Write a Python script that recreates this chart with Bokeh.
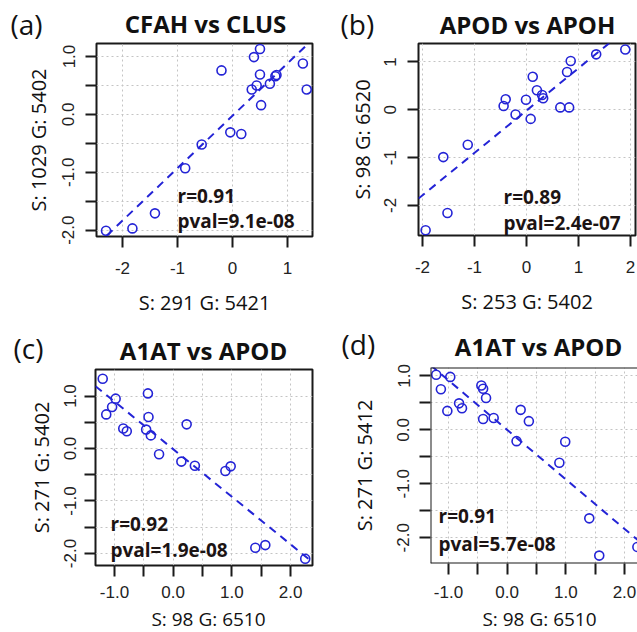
import numpy as np
from bokeh.plotting import figure
from bokeh.models import Range1d, FixedTicker, Label, Span, PrintfTickFormatter
from bokeh.core.properties import value
from bokeh.layouts import row, column
from bokeh.embed import file_html
from bokeh.resources import INLINE

# ---------------- data ----------------
# (a) CFAH vs CLUS
A_X = [-2.30, -1.82, -1.41, -0.86, -0.56, -0.04, 0.16, -0.20, 0.39, 0.50,
       0.50, 0.35, 0.44, 0.52, 0.68, 0.78, 0.80, 1.28, 1.35]
A_Y = [-2.01, -1.97, -1.71, -0.93, -0.52, -0.31, -0.34, 0.76, 0.99, 1.13,
       0.69, 0.43, 0.50, 0.16, 0.53, 0.66, 0.68, 0.88, 0.43]
# (b) APOD vs APOH
B_X = [-1.94, -1.52, -1.60, -1.13, -0.44, -0.40, -0.21, -0.01, 0.08, 0.12,
       0.20, 0.30, 0.32, 0.65, 0.82, 0.78, 0.85, 1.34, 1.90]
B_Y = [-2.52, -2.16, -0.99, -0.73, 0.08, 0.22, -0.10, 0.21, -0.19, 0.69,
       0.41, 0.31, 0.24, 0.05, 0.05, 0.79, 1.02, 1.16, 1.26]
# (c) A1AT vs APOD
C_X = [-1.20, -1.14, -1.04, -0.98, -0.85, -0.79, -0.43, -0.42, -0.46, -0.38,
       -0.24, 0.14, 0.23, 0.37, 0.89, 0.98, 1.40, 1.57, 2.25]
C_Y = [1.33, 0.65, 0.79, 0.95, 0.38, 0.33, 1.05, 0.60, 0.36, 0.25,
       -0.11, -0.25, 0.46, -0.33, -0.43, -0.34, -1.89, -1.84, -2.10]
# (d) A1AT vs APOD
D_X = [-1.21, -0.97, -1.13, -1.02, -0.82, -0.77, -0.44, -0.41, -0.36, -0.41,
       -0.23, 0.23, 0.37, 0.16, 0.99, 0.89, 1.40, 1.57, 2.22]
D_Y = [1.02, 0.98, 0.75, 0.35, 0.49, 0.40, 0.82, 0.76, 0.59, 0.20,
       0.22, 0.37, 0.16, -0.21, -0.22, -0.61, -1.64, -2.33, -2.17]

TITLES = ["CFAH vs CLUS", "APOD vs APOH", "A1AT vs APOD", "A1AT vs APOD"]
LETTERS = ["(a)", "(b)", "(c)", "(d)"]
XLABELS = ["S: 291 G: 5421", "S: 253 G: 5402", "S: 98 G: 6510", "S: 98 G: 6510"]
YLABELS = ["S: 1029 G: 5402", "S: 98 G: 6520", "S: 271 G: 5402", "S: 271 G: 5412"]
R_TEXT = ["r=0.91", "r=0.89", "r=0.92", "r=0.91"]
P_TEXT = ["pval=9.1e-08", "pval=2.4e-07", "pval=1.9e-08", "pval=5.7e-08"]

# ticks (major labelled, minor unlabelled)
A_XTICKS, A_XMINOR = [-2, -1, 0, 1], []
A_YTICKS, A_YMINOR = [-2, -1, 0, 1], [-1.5, -0.5, 0.5]
B_XTICKS, B_XMINOR = [-2, -1, 0, 1, 2], []
B_YTICKS, B_YMINOR = [-2, -1, 0, 1], []
C_XTICKS, C_XMINOR = [-1, 0, 1, 2], [-0.5, 0.5, 1.5]
C_YTICKS, C_YMINOR = [-2, -1, 0, 1], [-1.5, -0.5, 0.5]
D_XTICKS, D_XMINOR = [-1, 0, 1, 2], [-0.5, 0.5, 1.5]
D_YTICKS, D_YMINOR = [-2, -1, 0, 1], [-1.5, -0.5, 0.5]

# ---------------- layout / style ----------------
BLUE = "#2424d6"
FONT = "Open Sans"
TICK_FONT = "Liberation Sans"
INK = "#1a1a1a"
BASE_SHIFT = 0.35  # em; renderer draws "alphabetic" text this much lower

# page-pixel geometry: header (x, y, w, h), panel figure (x, y, w, h), frame (L, T, R, B)
GEOM = [
    dict(head=(0, 0, 318, 42), fig=(0, 42, 318, 276), frame=(96, 43, 312, 236),
         xr=(-2.473, 1.455), yr=(-2.11, 1.225), xfmt="%d", yfmt="%.1f",
         xstand=(14, 12), ystand=(11, 8), foot=None,
         title=(205, 31.2), letter=(10, 33.0), rtxt=(177, 201.7), ptxt=(177, 226.7)),
    dict(head=(318, 0, 319, 42), fig=(318, 42, 319, 276), frame=(418, 43, 635, 235),
         xr=(-2.077, 2.096), yr=(-2.63, 1.387), xfmt="%d", yfmt="%d",
         xstand=(14, 12), ystand=(11, 6), foot=None,
         title=(527, 32.0), letter=(340, 33.0), rtxt=(503, 203), ptxt=(503, 229)),
    dict(head=(0, 318, 318, 50), fig=(0, 368, 318, 237), frame=(95, 369, 312, 565),
         xr=(-1.323, 2.374), yr=(-2.229, 1.505), xfmt="%.1f", yfmt="%.1f",
         xstand=(9, 0), ystand=(8, 7), foot=(0, 605, 318, 27, 208, 625.1),
         title=(203, 358.5), letter=(13, 357.0), rtxt=(110, 529.7), ptxt=(110, 556.3)),
    dict(head=(318, 318, 319, 45), fig=(318, 363, 319, 242), frame=(430, 367, 637, 563),
         xr=(-1.307, 2.222), yr=(-2.476, 1.154), xfmt="%.1f", yfmt="%.1f",
         xstand=(11, 0), ystand=(10, 17), foot=(318, 605, 319, 27, 539, 625.1),
         title=(538, 354.5), letter=(341, 353.5), rtxt=(438, 522), ptxt=(438, 550.3)),
]


def to_data(g, px, py):
    L, T, R, B = g["frame"]
    x0, x1 = g["xr"]
    y0, y1 = g["yr"]
    return (x0 + (px - L) / (R - L) * (x1 - x0),
            y1 - (py - T) / (B - T) * (y1 - y0))


def blank_fig(ox, oy, w, h):
    p = figure(width=w, height=h, output_backend="svg", toolbar_location=None,
               x_range=Range1d(ox, ox + w), y_range=Range1d(oy + h, oy),
               x_axis_location=None, y_axis_location=None, title=None,
               min_border=0)
    p.grid.visible = False
    p.outline_line_color = None
    p.background_fill_color = "white"
    p.border_fill_color = "white"
    return p


def make_header(i):
    g = GEOM[i]
    p = blank_fig(*g["head"])
    tx, ty = g["title"]
    p.text(x=[tx], y=[ty - BASE_SHIFT * 24], text=[TITLES[i]], text_align="center",
           text_baseline="alphabetic", text_font=value(FONT),
           text_font_size="24px", text_font_style="bold", text_color="#111111")
    lx, ly = g["letter"]
    p.text(x=[lx], y=[ly - BASE_SHIFT * 28], text=[LETTERS[i]], text_align="left",
           text_baseline="alphabetic", text_font=value(FONT),
           text_font_size="28px", text_color="#111111")
    return p


def make_footer(i):
    g = GEOM[i]
    fx, fy, fw, fh, cx, by = g["foot"]
    p = blank_fig(fx, fy, fw, fh)
    p.text(x=[cx], y=[by - BASE_SHIFT * 19], text=[XLABELS[i]], text_align="center",
           text_baseline="alphabetic", text_font=value(FONT),
           text_font_size="19px", text_color="#111111")
    return p


def make_panel(i, xs, ys, xt, xm, yt, ym):
    g = GEOM[i]
    ox, oy, w, h = g["fig"]
    L, T, R, B = g["frame"]
    p = figure(width=w, height=h, output_backend="svg", toolbar_location=None,
               x_range=Range1d(*g["xr"]), y_range=Range1d(*g["yr"]), title=None,
               min_border_left=L - ox, min_border_top=T - oy,
               min_border_right=ox + w - R, min_border_bottom=oy + h - B)
    p.background_fill_color = "white"
    p.border_fill_color = "white"
    if i == 3:
        p.outline_line_color = None
        for loc, dim in [(g["xr"][0], "height"), (g["yr"][0], "width"), (g["yr"][1], "width")]:
            p.add_layout(Span(location=loc, dimension=dim, line_color=INK, line_width=2))
    else:
        p.outline_line_color = INK
        p.outline_line_width = 2
        p.outline_line_alpha = 1

    xtk = FixedTicker(ticks=xt, minor_ticks=xm)
    ytk = FixedTicker(ticks=yt, minor_ticks=ym)
    p.xaxis.ticker = xtk
    p.yaxis.ticker = ytk
    p.xgrid.ticker = xtk
    p.ygrid.ticker = ytk
    p.xaxis.formatter = PrintfTickFormatter(format=g["xfmt"])
    p.yaxis.formatter = PrintfTickFormatter(format=g["yfmt"])
    for gr in (p.xgrid, p.ygrid):
        gr.grid_line_color = "#c4c4c4"
        gr.grid_line_dash = "2 3"
        gr.grid_line_width = 1
        gr.minor_grid_line_color = "#c4c4c4"
        gr.minor_grid_line_dash = "2 3"
        gr.minor_grid_line_width = 1

    xlab = None if g["foot"] else XLABELS[i]
    for ax, lab, (s1, s2) in ((p.xaxis[0], xlab, g["xstand"]),
                              (p.yaxis[0], YLABELS[i], g["ystand"])):
        ax.axis_line_color = None
        ax.major_tick_in = 0
        ax.major_tick_out = 11
        ax.minor_tick_in = 0
        ax.minor_tick_out = 11
        ax.major_tick_line_width = 2
        ax.minor_tick_line_width = 2
        ax.major_tick_line_color = INK
        ax.minor_tick_line_color = INK
        ax.major_label_text_font = TICK_FONT
        ax.major_label_text_font_size = "17px"
        ax.major_label_text_color = "#222222"
        ax.major_label_standoff = s1
        if lab:
            ax.axis_label = lab
            ax.axis_label_text_font = FONT
            ax.axis_label_text_font_size = "20px"
            ax.axis_label_text_font_style = "normal"
            ax.axis_label_text_color = "#111111"
            ax.axis_label_standoff = s2
    p.yaxis.major_label_orientation = "vertical"

    slope, icpt = np.polyfit(xs, ys, 1)
    xe = np.array(g["xr"])
    p.line(xe, slope * xe + icpt, line_color=BLUE, line_width=2, line_dash="8 6")
    p.scatter(xs, ys, marker="circle", size=9, fill_color=None,
              line_color=BLUE, line_width=1.6)

    for key, txt in (("rtxt", R_TEXT[i]), ("ptxt", P_TEXT[i])):
        px, py = g[key]
        sx, sy = to_data(g, px, py - BASE_SHIFT * 19)
        p.add_layout(Label(x=sx, y=sy, text=txt, text_align="left",
                           text_baseline="alphabetic", text_font=FONT,
                           text_font_size="19px", text_font_style="bold",
                           text_color="#1c1414"))
    return p


pa = make_panel(0, A_X, A_Y, A_XTICKS, A_XMINOR, A_YTICKS, A_YMINOR)
pb = make_panel(1, B_X, B_Y, B_XTICKS, B_XMINOR, B_YTICKS, B_YMINOR)
pc = make_panel(2, C_X, C_Y, C_XTICKS, C_XMINOR, C_YTICKS, C_YMINOR)
pd = make_panel(3, D_X, D_Y, D_XTICKS, D_XMINOR, D_YTICKS, D_YMINOR)

# each figure wrapped in its own row so that frames are not aligned across figures
layout = column(
    row(column(row(make_header(0)), row(pa)),
        column(row(make_header(1)), row(pb))),
    row(column(row(make_header(2)), row(pc), row(make_footer(2))),
        column(row(make_header(3)), row(pd), row(make_footer(3)))),
)
open("out.html", "w").write(file_html(layout, INLINE))
